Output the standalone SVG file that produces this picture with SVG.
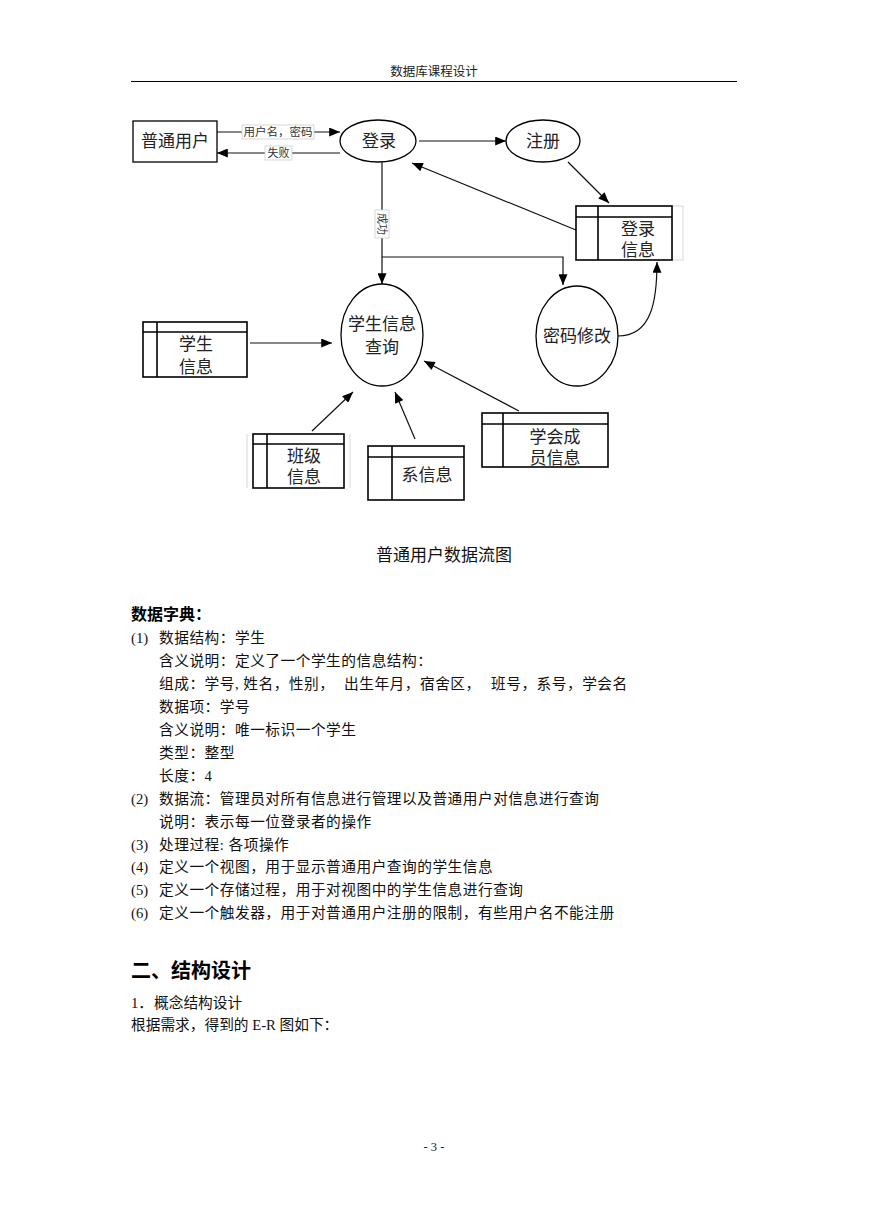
<svg xmlns="http://www.w3.org/2000/svg" width="869" height="1228" viewBox="0 0 869 1228">
<defs>
<marker id="ah" viewBox="0 0 12 10" refX="12" refY="5" markerWidth="12" markerHeight="9" markerUnits="userSpaceOnUse" orient="auto"><path d="M0,0 L12,5 L0,10 z" fill="#000"/></marker>
</defs>
<style>
.node{fill:#fff;stroke:#000;stroke-width:1.3}
.store{fill:#fff;stroke:#000;stroke-width:1.6}
.sl{stroke:#000;stroke-width:1.6}
.faint{stroke:#d8d8d8;stroke-width:1;fill:none}
.ntxt{font-family:"Liberation Serif","Noto Sans CJK SC",sans-serif;font-size:17px;fill:#222;text-anchor:middle}
.conn{fill:none;stroke:#111;stroke-width:1.2}
.lbl{font-family:"Liberation Serif","Noto Sans CJK SC",sans-serif;font-size:11px;fill:#333;text-anchor:middle}
.lblbg{fill:#fff;stroke:#ccc;stroke-width:0.8}
.body{font-family:"Liberation Serif","Noto Sans CJK SC",serif;font-size:14.7px;fill:#111}
.ls{letter-spacing:0.5px}
.bold{font-family:"Liberation Serif","Noto Sans CJK SC",serif;font-weight:bold;fill:#000}
.hdr{font-family:"Liberation Serif","Noto Sans CJK SC",serif;font-size:12.5px;fill:#222;text-anchor:middle}
</style>
<rect x="0" y="0" width="869" height="1228" fill="#fff"/>

<!-- header -->
<text class="hdr" x="434" y="76">数据库课程设计</text>
<line x1="131" y1="81.5" x2="737" y2="81.5" stroke="#000" stroke-width="1"/>

<!-- connectors -->
<g id="connectors">
  <path class="conn" d="M217,132 L340,132" marker-end="url(#ah)"/>
  <path class="conn" d="M340,153 L217,153" marker-end="url(#ah)"/>
  <path class="conn" d="M419,141 L506,141" marker-end="url(#ah)"/>
  <path class="conn" d="M568,162 L609,203" marker-end="url(#ah)"/>
  <path class="conn" d="M576,230 L412,163" marker-end="url(#ah)"/>
  <path class="conn" d="M382,162 L382,284" marker-end="url(#ah)"/>
  <path class="conn" d="M382,257 L563,257 L563,285" marker-end="url(#ah)"/>
  <path class="conn" d="M250,343 L332,343" marker-end="url(#ah)"/>
  <path class="conn" d="M312,431 L353,392" marker-end="url(#ah)"/>
  <path class="conn" d="M415,439 L395,392" marker-end="url(#ah)"/>
  <path class="conn" d="M519,411 L424,361" marker-end="url(#ah)"/>
  <path class="conn" d="M618,336 C652,336 657,300 657,262" marker-end="url(#ah)"/>
  <g id="lbl-userpass">
    <rect class="lblbg" x="242" y="125" width="72" height="14"/>
    <text class="lbl" x="278" y="136" style="font-size:11.5px">用户名，密码</text>
  </g>
  <g id="lbl-fail">
    <rect class="lblbg" x="265" y="146" width="27" height="14"/>
    <text class="lbl" x="278.5" y="157">失败</text>
  </g>
  <g id="lbl-success">
    <rect class="lblbg" x="375" y="210" width="14" height="28"/>
    <text class="lbl" x="0" y="0" transform="translate(378,224) rotate(90)">成功</text>
  </g>
</g>

<!-- nodes -->
<g id="user">
  <rect class="node" x="133" y="121" width="84" height="41"/>
  <text class="ntxt" x="175" y="147">普通用户</text>
</g>
<g id="login">
  <ellipse class="node" cx="378" cy="141" rx="38" ry="21"/>
  <text class="ntxt" x="379" y="147">登录</text>
</g>
<g id="register">
  <ellipse class="node" cx="543" cy="141" rx="37" ry="21"/>
  <text class="ntxt" x="543" y="147">注册</text>
</g>
<g id="login-info">
  <rect class="faint" x="672" y="206" width="11" height="54"/>
  <rect class="store" x="576" y="206" width="96" height="54"/>
  <line class="sl" x1="598" y1="206" x2="598" y2="260"/>
  <line class="sl" x1="576" y1="217" x2="672" y2="217"/>
  <text class="ntxt" x="638" y="235">登录</text>
  <text class="ntxt" x="638" y="256">信息</text>
</g>
<g id="query">
  <ellipse class="node" cx="382" cy="335" rx="41" ry="51"/>
  <text class="ntxt" x="382" y="330">学生信息</text>
  <text class="ntxt" x="382" y="353">查询</text>
</g>
<g id="pwd">
  <ellipse class="node" cx="577" cy="336" rx="41" ry="50"/>
  <text class="ntxt" x="577" y="342">密码修改</text>
</g>
<g id="student-info">
  <rect class="store" x="143" y="322" width="104" height="55"/>
  <line class="sl" x1="157" y1="322" x2="157" y2="377"/>
  <line class="sl" x1="143" y1="332" x2="247" y2="332"/>
  <text class="ntxt" x="196" y="350">学生</text>
  <text class="ntxt" x="196" y="373">信息</text>
</g>
<g id="class-info">
  <line class="faint" x1="247" y1="434" x2="247" y2="488"/>
  <line class="faint" x1="350" y1="434" x2="350" y2="488"/>
  <rect class="store" x="253" y="434" width="91" height="54"/>
  <line class="sl" x1="267" y1="434" x2="267" y2="488"/>
  <line class="sl" x1="253" y1="444" x2="344" y2="444"/>
  <text class="ntxt" x="304" y="462">班级</text>
  <text class="ntxt" x="304" y="483">信息</text>
</g>
<g id="dept-info">
  <rect class="store" x="368" y="446" width="96" height="54"/>
  <line class="sl" x1="392" y1="446" x2="392" y2="500"/>
  <line class="sl" x1="368" y1="457" x2="464" y2="457"/>
  <text class="ntxt" x="427" y="481">系信息</text>
</g>
<g id="society-info">
  <rect class="store" x="482" y="413" width="126" height="54"/>
  <line class="sl" x1="503" y1="413" x2="503" y2="467"/>
  <line class="sl" x1="482" y1="424" x2="608" y2="424"/>
  <text class="ntxt" x="555" y="443">学会成</text>
  <text class="ntxt" x="555" y="464">员信息</text>
</g>

<!-- caption -->
<text class="ntxt" x="444" y="561" style="fill:#111">普通用户数据流图</text>

<!-- data dictionary -->
<g id="dict">
  <text class="bold" x="131" y="620" font-size="16">数据字典：</text>
  <text class="body" x="131" y="643">(1)</text>
  <text class="body ls" x="159" y="643">数据结构：学生</text>
  <text class="body ls" x="159" y="666">含义说明：定义了一个学生的信息结构：</text>
  <text class="body ls" x="159" y="689">组成：学号, 姓名，性别，</text>
  <text class="body ls" x="344" y="689">出生年月，宿舍区，</text>
  <text class="body ls" x="491" y="689">班号，系号，学会名</text>
  <text class="body ls" x="159" y="712">数据项：学号</text>
  <text class="body ls" x="159" y="735">含义说明：唯一标识一个学生</text>
  <text class="body ls" x="159" y="758">类型：整型</text>
  <text class="body ls" x="159" y="781">长度：4</text>
  <text class="body" x="131" y="804">(2)</text>
  <text class="body ls" x="159" y="804">数据流：管理员对所有信息进行管理以及普通用户对信息进行查询</text>
  <text class="body ls" x="159" y="827">说明：表示每一位登录者的操作</text>
  <text class="body" x="131" y="850">(3)</text>
  <text class="body ls" x="159" y="850">处理过程: 各项操作</text>
  <text class="body" x="131" y="872">(4)</text>
  <text class="body ls" x="159" y="872">定义一个视图，用于显示普通用户查询的学生信息</text>
  <text class="body" x="131" y="895">(5)</text>
  <text class="body ls" x="159" y="895">定义一个存储过程，用于对视图中的学生信息进行查询</text>
  <text class="body" x="131" y="918">(6)</text>
  <text class="body ls" x="159" y="918">定义一个触发器，用于对普通用户注册的限制，有些用户名不能注册</text>
</g>

<text class="bold" x="131" y="978" font-size="20">二、结构设计</text>
<text class="body" x="131" y="1008" font-size="17.5">1．</text>
<text class="body" x="154" y="1008" font-size="18">概念结构设计</text>
<text class="body" x="131" y="1030">根据需求，得到的 E-R 图如下：</text>

<text class="hdr" x="434" y="1151">- 3 -</text>
</svg>
